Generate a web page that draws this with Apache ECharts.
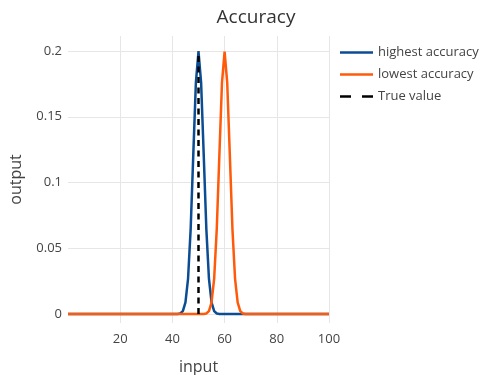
<!DOCTYPE html>
<html>
<head>
<meta charset="utf-8">
<script src="https://cdn.jsdelivr.net/npm/echarts@6/dist/echarts.min.js"></script>
<style>
  html, body { margin: 0; padding: 0; background: #fff; }
  #chart { width: 486px; height: 375px; }
</style>
</head>
<body>
<div id="chart"></div>
<script>
// Sampled input values (denser around the two peaks)
const inputs = [0, 10, 20, 30, 40, 41, 42, 43, 44, 45, 46, 47, 48, 49, 50, 51, 52, 53, 54, 55,
  56, 57, 58, 59, 60, 61, 62, 63, 64, 65, 66, 67, 68, 69, 70, 80, 90, 100];

// Output of the high-accuracy model, centred on 50
const highestAccuracy = [0, 0, 0, 0, 0, 0, 0.0001, 0.0004, 0.0022, 0.0088, 0.027, 0.0648, 0.121, 0.176, 0.1995,
  0.176, 0.121, 0.0648, 0.027, 0.0088, 0.0022, 0.0004, 0.0001, 0, 0, 0, 0, 0, 0, 0, 0, 0, 0, 0, 0, 0, 0, 0];

// Output of the low-accuracy model, centred on 60
const lowestAccuracy = [0, 0, 0, 0, 0, 0, 0, 0, 0, 0, 0, 0, 0, 0, 0, 0, 0.0001, 0.0004, 0.0022, 0.0088,
  0.027, 0.0648, 0.121, 0.176, 0.1995, 0.176, 0.121, 0.0648, 0.027, 0.0088, 0.0022, 0.0004, 0.0001, 0, 0, 0, 0, 0];

// Reference marker for the true value
const trueValueX = [50, 50];
const trueValueY = [0, 0.2];

const xTicks = [20, 40, 60, 80, 100];
const yTicks = [0, 0.05, 0.1, 0.15, 0.2];

const seriesNames = ['highest accuracy', 'lowest accuracy', 'True value'];
const colors = ['#0b4c93', '#ff5a0a', '#000000'];

const zip = (xs, ys) => xs.map((x, i) => [x, ys[i]]);
const font = '"Open Sans", "Noto Sans", sans-serif';

// Legend glyphs: a solid stroke, and a two-dash stroke for the reference line
const solidIcon = 'path://M0,0H33V2.5H0Z';
const dashIcon = 'path://M0,0H11V2.5H0Z M22,0H33V2.5H22Z';

const chart = echarts.init(document.getElementById('chart'), null, { renderer: 'canvas' });

chart.setOption({
  animation: false,
  backgroundColor: '#fff',
  textStyle: { fontFamily: font },
  title: {
    text: 'Accuracy',
    left: 251,
    top: 3,
    textAlign: 'center',
    textStyle: { fontFamily: font, fontSize: 19, fontWeight: 'normal', color: '#333' }
  },
  legend: {
    orient: 'vertical',
    left: 340,
    top: 44,
    padding: 0,
    itemGap: 5,
    itemWidth: 33,
    itemHeight: 2.5,
    symbolKeepAspect: false,
    textStyle: { fontFamily: font, fontSize: 13, color: '#444', lineHeight: 17 },
    data: seriesNames.map((n, i) => ({
      name: n,
      icon: i === 2 ? dashIcon : solidIcon,
      itemStyle: { color: colors[i], borderWidth: 0 }
    }))
  },
  grid: { left: 68, right: 157, top: 36, bottom: 52, containLabel: false, outerBoundsMode: 'none' },
  xAxis: {
    type: 'value',
    min: 0,
    max: 100,
    name: 'input',
    nameLocation: 'middle',
    nameGap: 36,
    nameTextStyle: { fontFamily: font, fontSize: 16, color: '#444' },
    axisLine: { show: false },
    axisTick: { show: false, customValues: xTicks },
    axisLabel: { customValues: xTicks, fontFamily: font, fontSize: 13, color: '#444', margin: 10 },
    splitLine: { show: true, lineStyle: { color: '#e6e6e6', width: 1 } }
  },
  yAxis: {
    type: 'value',
    min: -0.0068,
    max: 0.2114,
    name: 'output',
    nameLocation: 'middle',
    nameGap: 44,
    nameRotate: 90,
    nameTextStyle: { fontFamily: font, fontSize: 16, color: '#444' },
    axisLine: { show: false },
    axisTick: { show: false, customValues: yTicks },
    axisLabel: {
      customValues: yTicks, fontFamily: font, fontSize: 13, color: '#444', margin: 6,
      formatter: v => String(Number(v.toFixed(4)))
    },
    splitLine: { show: true, lineStyle: { color: '#e6e6e6', width: 1 } }
  },
  series: [
    {
      name: seriesNames[0], type: 'line', data: zip(inputs, highestAccuracy),
      showSymbol: false, symbol: 'none', z: 2,
      lineStyle: { color: colors[0], width: 2.5 }, itemStyle: { color: colors[0] }
    },
    {
      name: seriesNames[1], type: 'line', data: zip(inputs, lowestAccuracy),
      showSymbol: false, symbol: 'none', z: 3,
      lineStyle: { color: colors[1], width: 2.5 }, itemStyle: { color: colors[1] }
    },
    {
      name: seriesNames[2], type: 'line', data: zip(trueValueX, trueValueY),
      showSymbol: false, symbol: 'none', z: 4,
      lineStyle: { color: colors[2], width: 2.5, type: [6, 4.5] }, itemStyle: { color: colors[2] }
    }
  ]
});
</script>
</body>
</html>
